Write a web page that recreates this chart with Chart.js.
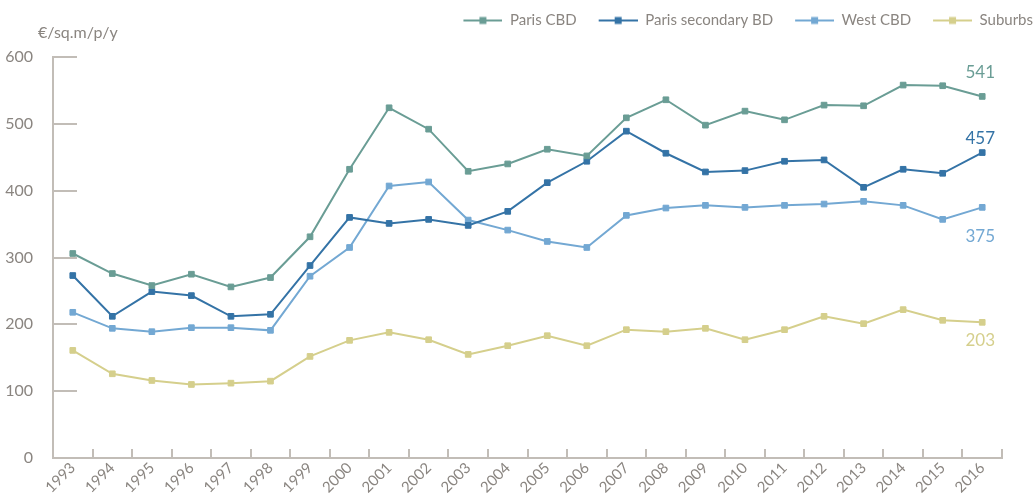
<!DOCTYPE html>
<html lang="en">
<head>
  <meta charset="UTF-8" />
  <title>Office rents — €/sq.m/p/y</title>
  <script src="https://cdn.jsdelivr.net/npm/chart.js"></script>
  <style>
    html, body { margin: 0; padding: 0; background: #fff; }
    #wrap { width: 1034px; height: 496px; }
  </style>
</head>
<body>
  <div id="wrap"><canvas id="rents" width="1034" height="496"></canvas></div>

  <script>
    // Data
    const years = ['1993', '1994', '1995', '1996', '1997', '1998', '1999', '2000', '2001', '2002', '2003', '2004',
                   '2005', '2006', '2007', '2008', '2009', '2010', '2011', '2012', '2013', '2014', '2015', '2016'];
    const parisCbd = [306, 276, 258, 275, 256, 270, 331, 432, 524, 492, 429, 440,
                      462, 452, 509, 536, 498, 519, 506, 528, 527, 558, 557, 541];
    const parisSecondary = [273, 212, 249, 243, 212, 215, 288, 360, 351, 357, 348, 369,
                            412, 444, 489, 456, 428, 430, 444, 446, 405, 432, 426, 457];
    const westCbd = [218, 194, 189, 195, 195, 191, 272, 315, 407, 413, 356, 341,
                     324, 315, 363, 374, 378, 375, 378, 380, 384, 378, 357, 375];
    const suburbs = [161, 126, 116, 110, 112, 115, 152, 176, 188, 177, 155, 168,
                     183, 168, 192, 189, 194, 177, 192, 212, 201, 222, 206, 203];
    const seriesNames = ['Paris CBD', 'Paris secondary BD', 'West CBD', 'Suburbs'];
    const unitLabel = '€/sq.m/p/y';

    const colors = ['#6a9d95', '#3473a6', '#73a8d3', '#d5cf8c'];
    const textGray = '#8a8580';
    const axisGray = '#c2bdb7';
    const font = 'Lato, "Open Sans", sans-serif';

    // vertical shift of the end-value labels, per series
    const endLabelShift = [-24, -14, 29, 18];

    // line + square icon for the legend; the blank left part is the gap to the previous item
    function legendIcon(color) {
      const c = document.createElement('canvas');
      c.width = 60; c.height = 10;
      const g = c.getContext('2d');
      g.strokeStyle = color; g.lineWidth = 2;
      g.beginPath(); g.moveTo(21, 5); g.lineTo(60, 5); g.stroke();
      g.fillStyle = color;
      g.fillRect(37, 1.5, 7, 7);
      return c;
    }

    // leave some room between the legend and the plot
    const legendGap = {
      id: 'legendGap',
      beforeLayout(chart) {
        const lg = chart.legend;
        if (lg && !lg._gapAdded) {
          const fit = lg.fit;
          lg.fit = function () { fit.call(this); this.height += 19; };
          lg._gapAdded = true;
        }
      }
    };

    const extras = {
      id: 'extras',
      afterDatasetsDraw(chart) {
        const ctx = chart.ctx;
        const area = chart.chartArea;
        ctx.save();
        // unit label above the y axis
        ctx.font = '16px ' + font;
        ctx.fillStyle = textGray;
        ctx.textAlign = 'left';
        ctx.textBaseline = 'middle';
        ctx.fillText(unitLabel, area.left - 15, area.top - 24);

        // last values at the end of each line
        ctx.font = '17px ' + font;
        ctx.textAlign = 'center';
        chart.data.datasets.forEach((ds, i) => {
          const meta = chart.getDatasetMeta(i);
          const last = meta.data[meta.data.length - 1];
          ctx.fillStyle = ds.borderColor;
          ctx.fillText(String(ds.data[ds.data.length - 1]), last.x - 2, last.y + endLabelShift[i]);
        });
        ctx.restore();
      }
    };

    const seriesData = [parisCbd, parisSecondary, westCbd, suburbs];

    new Chart(document.getElementById('rents'), {
      type: 'line',
      data: {
        labels: years,
        datasets: seriesData.map((values, i) => ({
          label: seriesNames[i],
          data: values,
          borderColor: colors[i],
          backgroundColor: colors[i],
          borderWidth: 2,
          tension: 0,
          pointStyle: 'rect',
          pointRadius: 4,
          pointBorderWidth: 1,
          pointBackgroundColor: colors[i],
          pointBorderColor: colors[i]
        }))
      },
      options: {
        responsive: false,
        devicePixelRatio: 1,
        animation: false,
        layout: { padding: { top: 12, left: 0, right: 0, bottom: 0 } },
        scales: {
          x: {
            offset: true,
            grid: {
              offset: true,
              drawOnChartArea: false,
              drawTicks: true,
              tickLength: -9,
              color: axisGray,
              lineWidth: 2
            },
            border: { color: axisGray, width: 2 },
            ticks: {
              autoSkip: false,
              maxRotation: 45,
              minRotation: 45,
              padding: 10,
              color: textGray,
              font: { family: font, size: 15 }
            },
            afterFit(scale) {
              scale.height = 38;
              scale.paddingLeft = 0;
              scale.paddingRight = 32;
            }
          },
          y: {
            min: 0,
            max: 600,
            ticks: {
              stepSize: 100,
              padding: 44,
              color: textGray,
              font: { family: font, size: 16 }
            },
            grid: {
              drawOnChartArea: false,
              drawTicks: true,
              tickLength: -24,
              color: axisGray,
              lineWidth: 2
            },
            border: { color: axisGray, width: 2 },
            afterFit(scale) {
              scale.width = 53;
              scale.paddingTop = 0;
              scale.paddingBottom = 0;
            }
          }
        },
        plugins: {
          legend: {
            position: 'top',
            align: 'end',
            labels: {
              usePointStyle: true,
              pointStyleWidth: 60,
              padding: 1,
              color: textGray,
              font: { family: font, size: 15 },
              generateLabels: (chart) => chart.data.datasets.map((ds, i) => ({
                text: ds.label,
                pointStyle: legendIcon(ds.borderColor),
                fontColor: textGray,
                fillStyle: 'transparent',
                strokeStyle: 'transparent',
                lineWidth: 0,
                hidden: false,
                datasetIndex: i
              }))
            }
          },
          tooltip: { enabled: false }
        }
      },
      plugins: [legendGap, extras]
    });
  </script>
</body>
</html>
